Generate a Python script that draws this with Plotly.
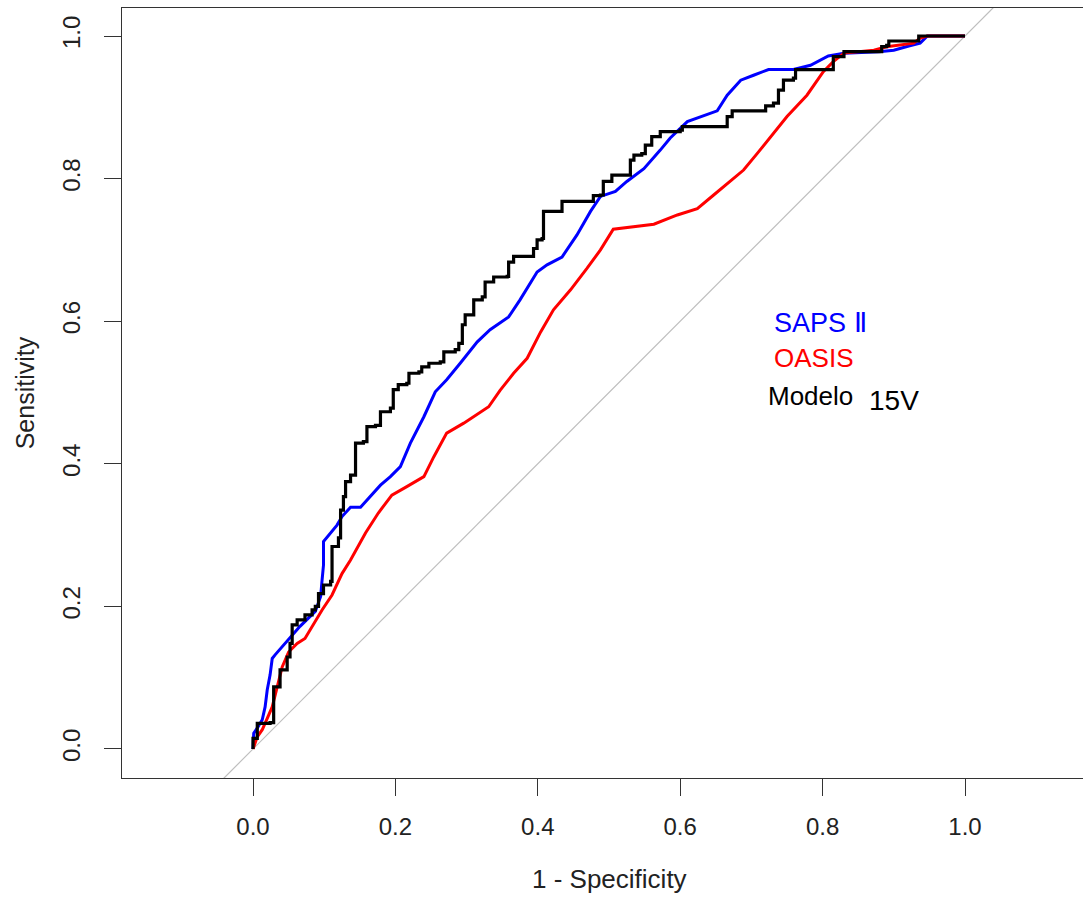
import plotly.graph_objects as go

# ROC curves: 1 - specificity (x) vs sensitivity (y)
saps_fpr = [0.0, 0.001, 0.007, 0.013, 0.017, 0.020, 0.024, 0.027, 0.031, 0.041, 0.050, 0.066,
            0.0875, 0.095, 0.097, 0.099, 0.099, 0.106, 0.118, 0.125, 0.137, 0.151, 0.165, 0.179,
            0.193, 0.207, 0.221, 0.240, 0.256, 0.272, 0.291, 0.315, 0.333, 0.359, 0.375, 0.399,
            0.413, 0.434, 0.455, 0.474, 0.488, 0.509, 0.525, 0.549, 0.572, 0.586, 0.610, 0.624,
            0.652, 0.666, 0.685, 0.703, 0.724, 0.759, 0.783, 0.808, 0.830, 0.879, 0.900, 0.921,
            0.937, 0.944, 0.947, 1.0]
saps_tpr = [0.0, 0.022, 0.031, 0.041, 0.059, 0.083, 0.104, 0.127, 0.132, 0.143, 0.153, 0.172,
            0.193, 0.214, 0.237, 0.258, 0.291, 0.300, 0.314, 0.326, 0.339, 0.339, 0.354, 0.370,
            0.382, 0.396, 0.429, 0.466, 0.501, 0.518, 0.541, 0.571, 0.588, 0.606, 0.630, 0.669,
            0.679, 0.690, 0.721, 0.754, 0.775, 0.782, 0.796, 0.814, 0.840, 0.857, 0.880, 0.885,
            0.895, 0.917, 0.938, 0.945, 0.953, 0.953, 0.959, 0.972, 0.976, 0.978, 0.980, 0.986,
            0.990, 0.997, 1.0, 1.0]

oasis_fpr = [0.0, 0.006, 0.013, 0.017, 0.027, 0.034, 0.041, 0.050, 0.062, 0.073, 0.083, 0.097,
             0.111, 0.125, 0.137, 0.158, 0.176, 0.195, 0.216, 0.240, 0.254, 0.272, 0.296, 0.331,
             0.347, 0.366, 0.385, 0.404, 0.422, 0.446, 0.469, 0.488, 0.506, 0.544, 0.563, 0.596,
             0.624, 0.647, 0.670, 0.689, 0.708, 0.727, 0.750, 0.778, 0.801, 0.815, 0.830, 0.872,
             0.890, 0.928, 0.937, 0.947, 1.0]
oasis_tpr = [0.0, 0.017, 0.027, 0.036, 0.059, 0.087, 0.115, 0.136, 0.148, 0.155, 0.172, 0.195,
             0.216, 0.246, 0.265, 0.303, 0.331, 0.356, 0.368, 0.382, 0.410, 0.443, 0.457, 0.480,
             0.503, 0.527, 0.548, 0.585, 0.616, 0.644, 0.674, 0.700, 0.729, 0.733, 0.736, 0.749,
             0.758, 0.777, 0.796, 0.812, 0.835, 0.859, 0.887, 0.917, 0.950, 0.964, 0.976, 0.980,
             0.985, 0.990, 0.997, 1.0, 1.0]

modelo_fpr = [0.0, 0.0, 0.006, 0.006, 0.024, 0.029, 0.038, 0.048, 0.052, 0.055, 0.062, 0.073,
              0.083, 0.0875, 0.092, 0.099, 0.109, 0.111, 0.111, 0.120, 0.123, 0.127, 0.130, 0.137,
              0.144, 0.144, 0.155, 0.160, 0.172, 0.179, 0.193, 0.197, 0.204, 0.216, 0.219, 0.233,
              0.237, 0.247, 0.263, 0.268, 0.284, 0.289, 0.294, 0.298, 0.310, 0.310, 0.322, 0.326,
              0.338, 0.357, 0.359, 0.366, 0.392, 0.394, 0.399, 0.406, 0.408, 0.425, 0.434, 0.476,
              0.478, 0.488, 0.492, 0.504, 0.523, 0.530, 0.535, 0.546, 0.551, 0.560, 0.572, 0.600,
              0.603, 0.659, 0.666, 0.673, 0.717, 0.720, 0.731, 0.738, 0.745, 0.759, 0.762, 0.813,
              0.815, 0.830, 0.881, 0.883, 0.890, 0.893, 0.933, 0.935, 1.0]
modelo_tpr = [0.0, 0.015, 0.015, 0.036, 0.037, 0.087, 0.111, 0.129, 0.148, 0.174, 0.181, 0.188,
              0.195, 0.200, 0.218, 0.230, 0.235, 0.242, 0.284, 0.296, 0.335, 0.354, 0.375, 0.384,
              0.387, 0.429, 0.431, 0.452, 0.454, 0.473, 0.478, 0.504, 0.511, 0.513, 0.527, 0.529,
              0.536, 0.541, 0.543, 0.557, 0.560, 0.569, 0.595, 0.609, 0.611, 0.630, 0.634, 0.655,
              0.662, 0.663, 0.683, 0.691, 0.691, 0.702, 0.714, 0.716, 0.754, 0.754, 0.768, 0.768,
              0.776, 0.777, 0.796, 0.805, 0.805, 0.826, 0.833, 0.835, 0.847, 0.859, 0.866, 0.868,
              0.873, 0.873, 0.887, 0.895, 0.895, 0.902, 0.906, 0.924, 0.938, 0.941, 0.953, 0.953,
              0.971, 0.978, 0.978, 0.985, 0.987, 0.993, 0.993, 1.0, 1.0]

tick_vals = [0.0, 0.2, 0.4, 0.6, 0.8, 1.0]
tick_text = ["0.0", "0.2", "0.4", "0.6", "0.8", "1.0"]

FONT = "Liberation Sans, Arial, sans-serif"

fig = go.Figure()

# chance diagonal
fig.add_trace(go.Scatter(x=[-0.5, 1.5], y=[-0.5, 1.5], mode="lines",
                         line=dict(color="#bebebe", width=1.2), hoverinfo="skip",
                         showlegend=False))

fig.add_trace(go.Scatter(x=saps_fpr, y=saps_tpr, mode="lines", name="SAPS II",
                         line=dict(color="#0000ff", width=3), showlegend=False))
fig.add_trace(go.Scatter(x=oasis_fpr, y=oasis_tpr, mode="lines", name="OASIS",
                         line=dict(color="#ff0000", width=3), showlegend=False))
fig.add_trace(go.Scatter(x=modelo_fpr, y=modelo_tpr, mode="lines", name="Modelo 15V",
                         line=dict(color="#000000", width=3.2, shape="hv"), showlegend=False))

axis_common = dict(
    showgrid=False, zeroline=False, showline=True, linecolor="#333333", linewidth=1.4,
    ticks="outside", ticklen=17, tickwidth=1.3, tickcolor="#333333",
    tickvals=tick_vals, ticktext=tick_text,
    tickfont=dict(family=FONT, size=24, color="#222222"),
)

fig.update_xaxes(range=[-0.184, -0.184 + 961 / 712], mirror=True,
                 ticklabelstandoff=10, **axis_common)
fig.update_yaxes(range=[-0.0407, 1.0393], tickangle=-90,
                 ticklabelstandoff=14, **axis_common)

annotations = [
    dict(text="1 - Specificity", x=0.5, xref="x", y=-0.1317, yref="paper",
         xanchor="center", yanchor="middle",
         showarrow=False, font=dict(family=FONT, size=26, color="#222222")),
    dict(text="Sensitivity", x=-0.1006, xref="paper", y=0.5, yref="paper",
         xanchor="center", yanchor="middle",
         textangle=-90, showarrow=False, font=dict(family=FONT, size=25, color="#222222")),
    dict(text="SAPS Ⅱ", x=0.729, y=0.597, xref="x", yref="y", xanchor="left",
         yanchor="middle", showarrow=False, font=dict(family=FONT, size=27, color="#0000ff")),
    dict(text="OASIS", x=0.729, y=0.548, xref="x", yref="y", xanchor="left",
         yanchor="middle", showarrow=False, font=dict(family=FONT, size=26, color="#ff0000")),
    dict(text="Modelo", x=0.720, y=0.495, xref="x", yref="y", xanchor="left",
         yanchor="middle", showarrow=False, font=dict(family=FONT, size=26, color="#000000")),
    dict(text="15V", x=0.862, y=0.489, xref="x", yref="y", xanchor="left",
         yanchor="middle", showarrow=False, font=dict(family=FONT, size=28, color="#000000")),
]

fig.update_layout(
    width=1083, height=899,
    margin=dict(l=122, r=0, t=8, b=121),
    paper_bgcolor="white", plot_bgcolor="white",
    annotations=annotations,
    showlegend=False,
)

fig.write_html("out.html")
